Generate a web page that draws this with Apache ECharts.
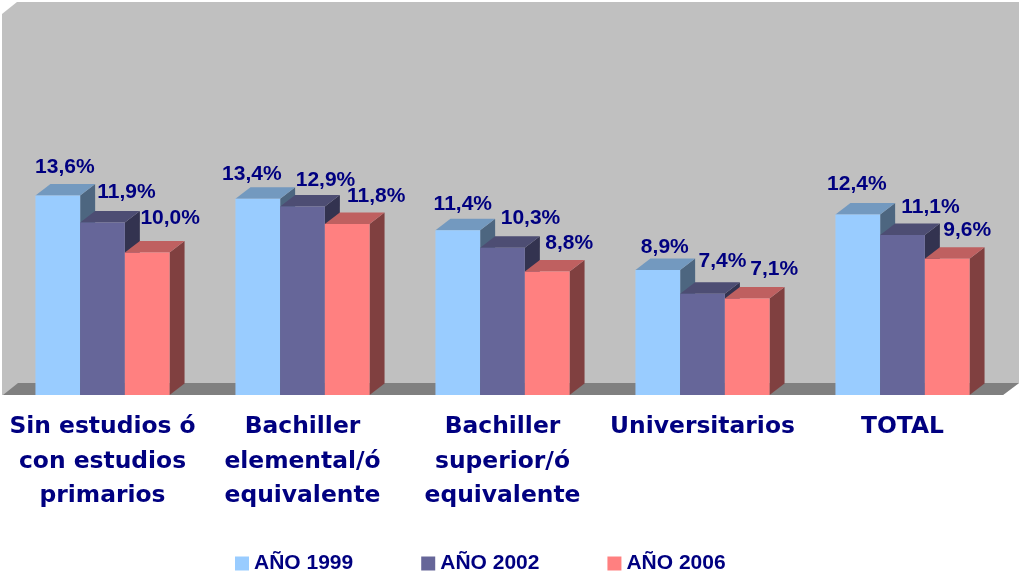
<!DOCTYPE html>
<html><head><meta charset="utf-8">
<style>html,body{margin:0;padding:0;background:#fff}#c{width:1019px;height:576px}</style>
<script src="https://cdn.jsdelivr.net/npm/echarts@6/dist/echarts.min.js"></script>
</head><body><div id="c"></div>
<script>
const categories = ['Sin estudios ó\ncon estudios\nprimarios','Bachiller\nelemental/ó\nequivalente','Bachiller\nsuperior/ó\nequivalente','Universitarios','TOTAL'];
const years = ['AÑO 1999','AÑO 2002','AÑO 2006'];
const v1999 = [13.6,13.4,11.4,8.9,12.4];
const v2002 = [11.9,12.9,10.3,7.4,11.1];
const v2006 = [10.0,11.8,8.8,7.1,9.6];
const labels1999 = ['13,6%','13,4%','11,4%','8,9%','12,4%'];
const labels2002 = ['11,9%','12,9%','10,3%','7,4%','11,1%'];
const labels2006 = ['10,0%','11,8%','8,8%','7,1%','9,6%'];

// Styling and hand-placed label nudges (layout only, not data)
const front = ['#99CCFF','#666699','#FF8080'];
const topFace = ['#7399BF','#4D4D73','#BF6060'];
const sideFace = ['#4D6680','#333350','#804040'];
const nudgeX = [[7,-6,5,7,-1],[24,23,28,20,28],[23,29,22,27,20]];
const nudgeY = [[-28,-24,-26,-23,-30],[-30,-26,-30,-32,-28],[-34,-28,-28,-29,-29]];
const DX = 15, DY = 11.5, BW = 0.2235;
const axisMin = 1, axisMax = 25;

function barSeries(name, data, lbls, idx){
  return {
    type:'custom', name, coordinateSystem:'cartesian2d', z:5+idx,
    data: data.map((v,i)=>[i,v,lbls[i]]),
    encode:{x:0,y:1},
    itemStyle:{color:front[idx]},
    renderItem(params, api){
      const cat = api.value(0), val = api.value(1);
      const unit = api.size([1,0])[0];
      const w = unit*BW;
      const c = api.coord([cat, val]);
      const b = api.coord([cat, axisMin]);
      const x = c[0] + (idx-1)*w - w/2;
      const y = c[1], h = b[1]-c[1];
      return {type:'group', children:[
        {type:'polygon',shape:{points:[[x+w,y],[x+w+DX,y-DY],[x+w+DX,y+h-DY],[x+w,y+h]]},style:{fill:sideFace[idx]}},
        {type:'polygon',shape:{points:[[x,y],[x+DX,y-DY],[x+w+DX,y-DY],[x+w,y]]},style:{fill:topFace[idx]}},
        {type:'rect',shape:{x,y,width:w,height:h},style:{fill:front[idx]}},
        {type:'text',style:{text:api.value(2),x:x+w/2+nudgeX[idx][cat],y:y+nudgeY[idx][cat],align:'center',verticalAlign:'middle',
          font:'bold 21px "Liberation Sans"',fill:'#000080'},z2:50}
      ]};
    }
  };
}
const chart = echarts.init(document.getElementById('c'));
chart.setOption({
  animation:false,
  backgroundColor:'#fff',
  graphic:{elements:[
    {type:'polygon',z:0,shape:{points:[[2,14],[17,2],[1019,2],[1019,383],[1003,395],[2,395]]},style:{fill:'#C0C0C0'}},
    {type:'polygon',z:0,shape:{points:[[3,395],[18,383],[1019,383],[1003,395]]},style:{fill:'#808080'}}
  ]},
  grid:{left:2.5,width:1000,top:15,height:380},
  legend:{
    left:235,top:553,padding:0,itemGap:68,itemWidth:14,itemHeight:14,
    icon:'rect',data:years,
    textStyle:{fontWeight:'bold',fontSize:21,fontFamily:'Liberation Sans',color:'#000080'}
  },
  xAxis:{type:'category',data:categories,axisLine:{show:false},axisTick:{show:false},
    axisLabel:{interval:0,margin:15,fontFamily:'DejaVu Sans',fontWeight:'bold',fontSize:23.4,lineHeight:34.5,color:'#000080',verticalAlign:'top'}},
  yAxis:{type:'value',min:axisMin,max:axisMax,show:false,splitLine:{show:false}},
  series:[barSeries(years[0],v1999,labels1999,0),barSeries(years[1],v2002,labels2002,1),barSeries(years[2],v2006,labels2006,2)]
});
</script></body></html>
